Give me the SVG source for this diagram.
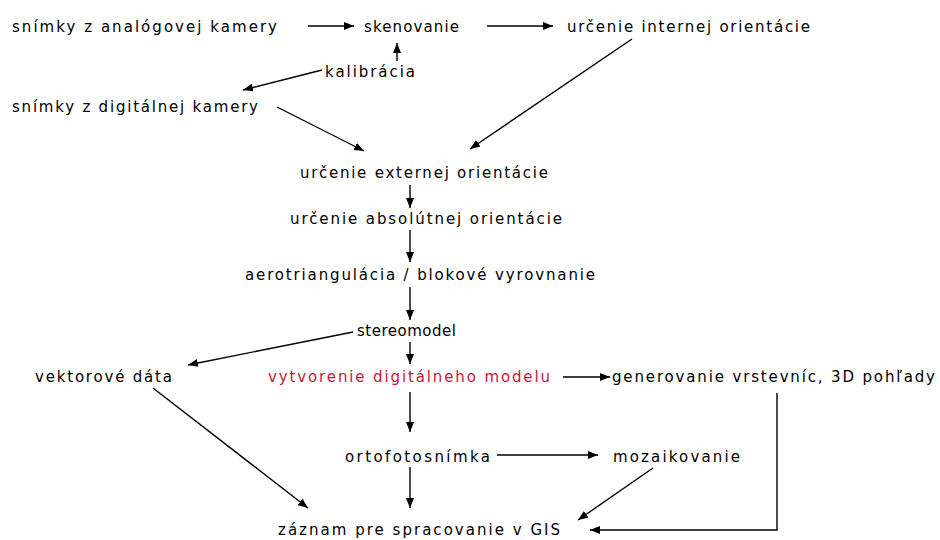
<svg xmlns="http://www.w3.org/2000/svg" width="940" height="540" viewBox="0 0 940 540">
<style>
text{font-family:"DejaVu Sans","Liberation Sans",Arial,sans-serif;font-size:15px;fill:#000}
text.red{fill:#c8163a}
.c line,.c polyline{stroke:#000;stroke-width:1.4;fill:none;marker-end:url(#ah)}
</style>
<defs>
<marker id="ah" markerUnits="userSpaceOnUse" markerWidth="10" markerHeight="8" refX="10" refY="4" orient="auto" viewBox="0 0 10 8">
<path d="M0,0 L10,4 L0,8 z" fill="#000"/>
</marker>
</defs>
<rect width="940" height="540" fill="#fff"/>
<g id="n1"><text x="12" y="32" textLength="265" lengthAdjust="spacing">snímky z analógovej kamery</text></g>
<g id="n2"><text x="364" y="32" textLength="95" lengthAdjust="spacing">skenovanie</text></g>
<g id="n3"><text x="567" y="32" textLength="243" lengthAdjust="spacing">určenie internej orientácie</text></g>
<g id="n4"><text x="325" y="77" textLength="90" lengthAdjust="spacing">kalibrácia</text></g>
<g id="n5"><text x="12" y="112" textLength="246" lengthAdjust="spacing">snímky z digitálnej kamery</text></g>
<g id="n6"><text x="300" y="178" textLength="248" lengthAdjust="spacing">určenie externej orientácie</text></g>
<g id="n7"><text x="290" y="224" textLength="272" lengthAdjust="spacing">určenie absolútnej orientácie</text></g>
<g id="n8"><text x="245" y="280" textLength="350" lengthAdjust="spacing">aerotriangulácia / blokové vyrovnanie</text></g>
<g id="n9"><text x="357" y="336" textLength="99" lengthAdjust="spacing">stereomodel</text></g>
<g id="n10"><text x="35" y="382" textLength="137" lengthAdjust="spacing">vektorové dáta</text></g>
<g id="n11"><text class="red" x="268" y="382" textLength="282" lengthAdjust="spacing">vytvorenie digitálneho modelu</text></g>
<g id="n12"><text x="612" y="382" textLength="323" lengthAdjust="spacing">generovanie vrstevníc, 3D pohľady</text></g>
<g id="n13"><text x="345" y="462" textLength="145" lengthAdjust="spacing">ortofotosnímka</text></g>
<g id="n14"><text x="613" y="462" textLength="127" lengthAdjust="spacing">mozaikovanie</text></g>
<g id="n15"><text x="278" y="535" textLength="282" lengthAdjust="spacing">záznam pre spracovanie v GIS</text></g>
<g id="connectors" class="c">
<line x1="308" y1="26" x2="354" y2="26"/>
<line x1="487" y1="26" x2="553" y2="26"/>
<line x1="397" y1="61" x2="397" y2="43"/>
<line x1="322" y1="70" x2="243" y2="90"/>
<line x1="277" y1="107" x2="364" y2="151"/>
<line x1="632" y1="39" x2="470" y2="149"/>
<line x1="410" y1="185" x2="410" y2="208"/>
<line x1="410" y1="230" x2="410" y2="262"/>
<line x1="410" y1="287" x2="410" y2="320"/>
<line x1="353" y1="332" x2="188" y2="365"/>
<line x1="410" y1="342" x2="410" y2="364"/>
<line x1="563" y1="377" x2="610" y2="377"/>
<polyline points="777,393 777,530 590,530"/>
<line x1="410" y1="392" x2="410" y2="432"/>
<line x1="497" y1="455" x2="598" y2="455"/>
<line x1="653" y1="468" x2="578" y2="520"/>
<line x1="153" y1="388" x2="308" y2="508"/>
<line x1="410" y1="467" x2="410" y2="508"/>
</g>
</svg>
